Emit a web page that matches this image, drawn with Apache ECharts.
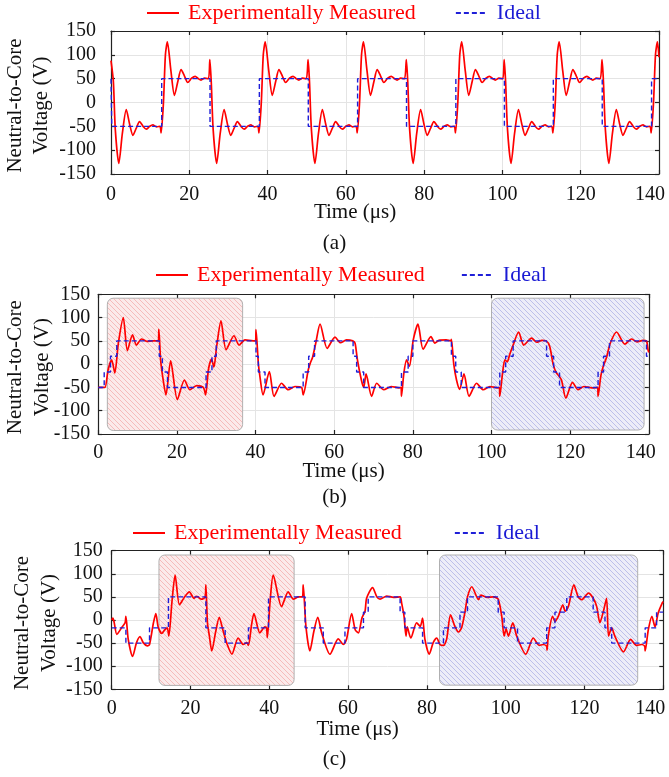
<!DOCTYPE html>
<html><head><meta charset="utf-8">
<script src="https://cdn.jsdelivr.net/npm/echarts@6/dist/echarts.min.js"></script>
<style>html,body{margin:0;padding:0;background:#fff}#c{width:669px;height:777px}</style>
</head><body><div id="c"></div>
<script>
// ---------------- data ----------------
const timeTicks = [0, 20, 40, 60, 80, 100, 120, 140];
const voltTicks = [-150, -100, -50, 0, 50, 100, 150];
const seriesNames = ['Experimentally Measured', 'Ideal'];
const panelLabels = ['(a)', '(b)', '(c)'];

// (a) measured [time µs, volts]
const measuredA = [
 [0,88],[0.6,45],[1.1,-57],[2.0,-128],[2.9,-65],[3.9,-15],[4.8,-47],[5.6,-69],[6.4,-55],[7.3,-40],[8.2,-50],[9.0,-56],[9.9,-50],[10.7,-47],[11.6,-51],
 [12.5,-50],[12.8,-64],[13.4,0],[13.9,100],[14.4,127],[15.3,67],[16.2,15],[17.1,45],[17.9,69],[18.8,55],[19.6,42],[20.6,51],[21.5,55],[22.3,50],[23.0,47],[23.9,51],[24.9,50],
 [25.25,90],[25.6,45],[26.1,-57],[27.0,-128],[27.9,-65],[28.9,-15],[29.8,-47],[30.6,-69],[31.4,-55],[32.3,-40],[33.2,-50],[34.0,-56],[34.9,-50],[35.7,-47],[36.6,-51],
 [37.5,-50],[37.8,-64],[38.4,0],[38.9,100],[39.4,127],[40.3,67],[41.2,15],[42.1,45],[42.9,69],[43.8,55],[44.6,42],[45.6,51],[46.5,55],[47.3,50],[48.0,47],[48.9,51],[49.9,50],
 [50.35,90],[50.7,45],[51.2,-57],[52.1,-128],[53.0,-65],[54.0,-15],[54.9,-47],[55.7,-69],[56.5,-55],[57.4,-40],[58.3,-50],[59.1,-56],[60.0,-50],[60.8,-47],[61.7,-51],
 [62.6,-50],[62.9,-64],[63.5,0],[64.0,100],[64.5,127],[65.4,67],[66.3,15],[67.2,45],[68.0,69],[68.9,55],[69.7,42],[70.7,51],[71.6,55],[72.4,50],[73.1,47],[74.0,51],[75.0,50],
 [75.45,90],[75.8,45],[76.3,-57],[77.2,-128],[78.1,-65],[79.1,-15],[80.0,-47],[80.8,-69],[81.6,-55],[82.5,-40],[83.4,-50],[84.2,-56],[85.1,-50],[85.9,-47],[86.8,-51],
 [87.7,-50],[88.0,-64],[88.6,0],[89.1,100],[89.6,127],[90.5,67],[91.4,15],[92.3,45],[93.1,69],[94.0,55],[94.8,42],[95.8,51],[96.7,55],[97.5,50],[98.2,47],[99.1,51],[100.1,50],
 [100.45,90],[100.8,45],[101.3,-57],[102.2,-128],[103.1,-65],[104.1,-15],[105.0,-47],[105.8,-69],[106.6,-55],[107.5,-40],[108.4,-50],[109.2,-56],[110.1,-50],[110.9,-47],[111.8,-51],
 [112.6,-50],[112.9,-64],[113.5,0],[114.0,100],[114.5,127],[115.4,67],[116.3,15],[117.2,45],[118.0,69],[118.9,55],[119.7,42],[120.7,51],[121.6,55],[122.4,50],[123.1,47],[124.0,51],[125.0,50],
 [125.45,90],[125.8,45],[126.3,-57],[127.2,-128],[128.1,-65],[129.1,-15],[130.0,-47],[130.8,-69],[131.6,-55],[132.5,-40],[133.4,-50],[134.2,-56],[135.1,-50],[135.9,-47],[136.8,-51],
 [137.7,-50],[138.0,-64],[138.6,0],[139.1,100],[139.6,127],[140.0,95]
];
// (a) ideal: level switches [time, new level]
const idealA = [[0,50],[0.2,-50],[12.95,50],[25.3,-50],[37.9,50],[50.4,-50],[63.0,50],[75.5,-50],[88.1,50],[100.5,-50],[113.0,50],[125.5,-50],[138.1,50],[140,50]];

// (b)
const measuredB = [
 [0,-50],[1.0,-50],[1.7,-50],[2.5,-12],[3.4,9],[4.2,-19],[5.1,45],[6.35,100],[7.4,29],[8.7,63],[9.7,41],[11.0,54],[12.3,49],[14.0,50],[15.25,50],[15.4,75],[15.85,9],[16.5,-34],[17.2,-66],[18.4,7],[20.1,-76],[21.9,-34],[23.3,-55],[25.0,-46],[26.7,-50],[27.3,-66],
 [28.0,-12],[28.8,11],[29.4,-6],[30.1,38],[31.2,93],[32.5,31],[34.5,61],[35.8,41],[37.3,52],[39.4,50],[40.0,50],[40.1,74],[40.7,2],[41.1,-26],[41.9,-66],[43.5,-16],[44.7,-69],[46.6,-41],[48.3,-55],[50.0,-48],[51.7,-50],[52.1,-66],
 [53.4,-12],[53.9,2],[54.5,15],[55.3,45],[56.4,86],[58.2,34],[60.2,58],[61.6,46],[63.1,52],[64.7,50],[65.3,45],[65.9,9],[66.9,-34],[67.5,-50],[68.1,-21],[69.5,-69],[70.8,-41],[72.6,-55],[74.5,-48],[76.5,-51],[77.0,-50],[77.1,-69],
 [77.7,-20],[78.4,9],[79.1,-5],[80.1,52],[81.3,86],[82.6,32],[84.6,59],[85.6,45],[86.6,51],[88.5,52],[89.6,50],[89.8,53],[90.4,0],[91.1,-34],[91.9,-54],[93.0,-21],[94.3,-69],[96.2,-41],[97.9,-55],[99.6,-48],[101.5,-51],[102.0,-50],[102.1,-69],
 [102.8,-20],[103.4,9],[104.0,5],[104.6,20],[105.5,41],[106.9,69],[108.2,41],[110.2,56],[111.5,47],[112.8,51],[113.9,50],[114.8,38],[115.7,-1],[116.5,-19],[117.1,-25],[117.8,-34],[118.9,-73],[120.6,-39],[122.0,-55],[123.5,-48],[125.5,-51],[127.0,-50],[127.1,-69],
 [127.8,-25],[128.4,-5],[129.2,13],[130.2,45],[131.8,69],[133.9,43],[135.6,54],[137.0,48],[138.5,51],[139.4,50],[139.8,31],[140,25]
];
const idealB = [[0,-50],[1.5,-17],[3.1,17],[4.7,50],[15.5,17],[16.3,-17],[17.6,-50],[27.4,-17],[28.9,17],[30.0,50],[40.1,17],[40.7,-17],[42.4,-50],[52.1,-17],[53.5,17],[55.0,50],[64.8,17],[65.7,-17],[67.5,-50],[77.1,-17],[78.8,17],[80.0,50],[89.8,17],[90.9,-17],[92.3,-50],[102.1,-17],[103.6,17],[105.5,50],[114.0,17],[115.8,-17],[117.3,-50],[127.1,-17],[128.5,17],[130.0,50],[139.4,17],[140,17]];
const redBoxB = [2.3, 36.7, 141.6, -142.5];   // [t0, t1, vTop, vBottom]
const blueBoxB = [100.0, 138.8, 141.6, -141.5];

// (c)
const measuredC = [
 [0,0],[0.3,4],[0.6,-4],[1.3,-31],[2.5,-17],[3.4,-6],[3.6,8],[4.2,-42],[5.3,-79],[6.3,-49],[7.2,-36],[8.0,-49],[9.1,-56],[9.6,-53],[10.6,-6],[11.2,14],[11.8,-15],[12.7,-29],[13.5,-21],[14.1,-17],[14.5,-35],
 [15.3,40],[16.1,97],[17.2,33],[18.5,50],[19.7,61],[20.9,47],[21.6,51],[22.8,45],[23.7,50],[23.9,76],[24.3,-6],[24.8,-35],[25.4,-67],[26.4,-25],[27.3,6],[28.2,-21],[29.2,-50],[30.5,-74],[32.1,-39],[33.4,-53],[34.3,-49],[34.7,-55],
 [35.5,-10],[36.1,14],[37.6,-28],[38.9,-15],[39.3,-17],[39.5,-38],[40.2,40],[41.0,97],[43.1,29],[44.8,61],[46.1,45],[47.4,50],[48.4,50],[48.6,76],[49.3,-14],[50.3,-67],[51.3,-25],[52.3,6],[53.3,-28],[55.4,-74],[57.5,-41],[58.8,-53],[59.6,-42],
 [60.9,14],[61.8,-21],[62.6,-28],[63.5,4],[64.3,19],[64.7,47],[66.2,70],[67.3,50],[68.1,45],[69.8,52],[71.5,49],[73.2,50],[73.6,36],[74.2,8],[74.7,-35],[75.0,-15],[75.9,-39],[77.4,-6],[78.3,-14],[78.9,4],[79.5,-42],[80.6,-74],[81.6,-49],[82.5,-39],[83.3,-53],[84.2,-55],
 [85.0,-42],[86.0,11],[87.1,-14],[88.0,-26],[88.8,-17],[89.7,19],[90.3,50],[91.4,72],[93.1,44],[93.7,54],[95.2,49],[96.9,50],[98.1,45],[99.0,8],[99.6,-35],[100.1,-19],[100.7,-35],[101.8,-6],[102.8,-35],[105.1,-74],[107.0,-39],[108.5,-55],[109.5,-53],[110.4,-57],[110.5,-65],
 [110.8,-35],[111.9,8],[112.5,-3],[113.4,9],[114.5,33],[115.1,19],[115.9,29],[117.3,76],[118.4,50],[119.3,44],[121.0,58],[122.2,47],[123.1,29],[123.9,-6],[124.8,19],[125.6,47],[126.1,-35],[126.9,-17],[127.7,-35],[129.9,-69],[131.7,-42],[133.2,-55],[134.5,-53],[135.3,-57],[135.4,-67],
 [136.2,-21],[137.1,8],[137.9,-15],[138.7,15],[139.8,38],[140,40]
];
const idealC = [[0,-17],[3.6,-50],[9.6,-17],[14.4,50],[23.9,-17],[28.8,-50],[34.7,-17],[39.8,50],[49.1,-17],[53.7,-50],[59.2,-17],[63.9,17],[65.1,50],[73.2,17],[74.4,-17],[78.9,-50],[84.2,-17],[88.4,17],[90.3,50],[98.1,17],[99.6,-17],[103.0,-50],[110.4,-17],[112.5,17],[115.5,50],[122.2,17],[125.2,-17],[126.9,-50],[135.4,-17],[138.3,17],[140,17]];
const redBoxC = [12.0, 46.3, 140.7, -141.6];
const blueBoxC = [83.2, 133.5, 140.7, -141.0];

// ---------------- styling / layout ----------------
const FONT = 'Liberation Serif';
function hatch(bg, line) {
  const c = document.createElement('canvas'); c.width = 5; c.height = 5;
  const g = c.getContext('2d');
  g.fillStyle = bg; g.fillRect(0, 0, 5, 5);
  g.strokeStyle = line; g.lineWidth = 1;
  g.beginPath();
  g.moveTo(-1, -1); g.lineTo(6, 6);
  g.moveTo(-1, 4); g.lineTo(1, 6);
  g.moveTo(4, -1); g.lineTo(6, 1);
  g.stroke();
  return c;
}
const redPattern = { image: hatch('#fbe8e8', '#f4b4b4'), repeat: 'repeat' };
const bluePattern = { image: hatch('#ebebf8', '#b6b8e8'), repeat: 'repeat' };

const panels = [
  { measured: measuredA, ideal: idealA, boxes: [],
    grid: { left: 111, top: 31, width: 548, height: 143 },
    yMargin: 15, xMargin: 11, xNameGap: 28, yNameGap: 56, maxShift: 18,
    legend: { left: 146, top: 2, itemGap: 39 }, titleTop: 233 },
  { measured: measuredB, ideal: idealB, boxes: [[redBoxB, redPattern], [blueBoxB, bluePattern]],
    grid: { left: 98.3, top: 294.3, width: 550.5, height: 139.7 },
    yMargin: 8, xMargin: 9, xNameGap: 27, yNameGap: 43, maxShift: 16,
    legend: { left: 155, top: 264, itemGap: 36 }, titleTop: 487 },
  { measured: measuredC, ideal: idealC, boxes: [[redBoxC, redPattern], [blueBoxC, bluePattern]],
    grid: { left: 111.7, top: 550.7, width: 551.6, height: 138.6 },
    yMargin: 9, xMargin: 9, xNameGap: 30, yNameGap: 49, maxShift: 26,
    legend: { left: 132, top: 522, itemGap: 52 }, titleTop: 749 }
];

const axisLineStyle = { color: '#222', width: 1.2 };
const grids = [], xAxes = [], yAxes = [], series = [], legends = [], titles = [];

panels.forEach((p, i) => {
  grids.push(Object.assign({ outerBoundsMode: 'none', containLabel: false }, p.grid));
  const xMin = timeTicks[0], xMax = timeTicks[timeTicks.length - 1];
  const yMin = voltTicks[0], yMax = voltTicks[voltTicks.length - 1];
  const xInt = timeTicks[1] - timeTicks[0], yInt = voltTicks[1] - voltTicks[0];
  xAxes.push({
    gridIndex: i, type: 'value', min: xMin, max: xMax, interval: xInt, position: 'bottom',
    axisLine: { onZero: false, lineStyle: axisLineStyle },
    axisTick: { inside: true, length: 4, lineStyle: axisLineStyle },
    axisLabel: { margin: p.xMargin, fontSize: 20, color: '#111', fontFamily: FONT,
      formatter: v => v === xMax ? '{m|' + v + '}' : String(v),
      rich: { m: { fontSize: 20, color: '#111', fontFamily: FONT, padding: [0, p.maxShift, 0, 0] } } },
    splitLine: { show: true, lineStyle: { color: '#e4e4e4', width: 1 } },
    name: 'Time (μs)', nameLocation: 'middle', nameGap: p.xNameGap, nameMoveOverlap: false,
    nameTextStyle: { fontSize: 21, color: '#111', fontFamily: FONT, padding: [0, 60, 0, 0] }
  });
  xAxes.push({
    gridIndex: i, type: 'value', min: xMin, max: xMax, interval: xInt, position: 'top',
    axisLine: { onZero: false, lineStyle: axisLineStyle },
    axisTick: { inside: true, length: 4, lineStyle: axisLineStyle },
    axisLabel: { show: false }, splitLine: { show: false }
  });
  yAxes.push({
    gridIndex: i, type: 'value', min: yMin, max: yMax, interval: yInt, position: 'left',
    axisLine: { onZero: false, lineStyle: axisLineStyle },
    axisTick: { inside: true, length: 4, lineStyle: axisLineStyle },
    axisLabel: { margin: p.yMargin, fontSize: 20, color: '#111', fontFamily: FONT },
    splitLine: { show: true, lineStyle: { color: '#e4e4e4', width: 1 } },
    name: 'Neutral-to-Core\nVoltage (V)', nameLocation: 'middle', nameRotate: 90, nameGap: p.yNameGap,
    nameMoveOverlap: false,
    nameTextStyle: { fontSize: 21, lineHeight: 26.5, color: '#111', fontFamily: FONT, padding: [0, 6, 0, 0] }
  });
  yAxes.push({
    gridIndex: i, type: 'value', min: yMin, max: yMax, interval: yInt, position: 'right',
    axisLine: { onZero: false, lineStyle: axisLineStyle },
    axisTick: { inside: true, length: 4, lineStyle: axisLineStyle },
    axisLabel: { show: false }, splitLine: { show: false }
  });

  p.boxes.forEach(([box, pattern], k) => {
    series.push({
      type: 'custom', name: 'box' + i + k, xAxisIndex: 2 * i, yAxisIndex: 2 * i, z: 1, silent: true,
      data: [box], encode: { x: [0, 1], y: [2, 3] },
      renderItem: (params, api) => {
        const p0 = api.coord([api.value(0), api.value(2)]);
        const p1 = api.coord([api.value(1), api.value(3)]);
        return { type: 'rect',
          shape: { x: p0[0], y: p0[1], width: p1[0] - p0[0], height: p1[1] - p0[1], r: 6 },
          style: { fill: pattern, stroke: '#a8a8a8', lineWidth: 1, opacity: 0.9 } };
      }
    });
  });

  series.push({
    type: 'line', name: seriesNames[0], xAxisIndex: 2 * i, yAxisIndex: 2 * i, z: 3,
    data: p.measured, symbol: 'none', showSymbol: false, smooth: 0.25,
    lineStyle: { color: '#ff0000', width: 1.7 }, itemStyle: { color: '#ff0000' }
  });
  series.push({
    type: 'line', name: seriesNames[1], xAxisIndex: 2 * i, yAxisIndex: 2 * i, z: 4,
    data: p.ideal, symbol: 'none', showSymbol: false, step: 'end',
    lineStyle: { color: '#1f1fd8', width: 1.4, type: [5, 3] }, itemStyle: { color: '#1f1fd8' }
  });

  legends.push({
    left: p.legend.left, top: p.legend.top, itemGap: p.legend.itemGap, padding: 0,
    itemWidth: 32, itemHeight: 14, selectedMode: false,
    itemStyle: { opacity: 0 },
    textStyle: { fontSize: 22, fontFamily: FONT, padding: [0, 0, 0, 4] },
    data: [
      { name: seriesNames[0], textStyle: { color: '#ff0000' } },
      { name: seriesNames[1], textStyle: { color: '#1a1ad4' } }
    ]
  });
  titles.push({
    text: panelLabels[i], left: 'center', top: p.titleTop, padding: 0,
    textStyle: { fontSize: 21, fontWeight: 'normal', fontFamily: FONT, color: '#111' }
  });
});

const chart = echarts.init(document.getElementById('c'), null, { renderer: 'canvas' });
chart.setOption({
  animation: false,
  backgroundColor: '#ffffff',
  textStyle: { fontFamily: FONT },
  title: titles, legend: legends, grid: grids, xAxis: xAxes, yAxis: yAxes, series: series
});
</script></body></html>
